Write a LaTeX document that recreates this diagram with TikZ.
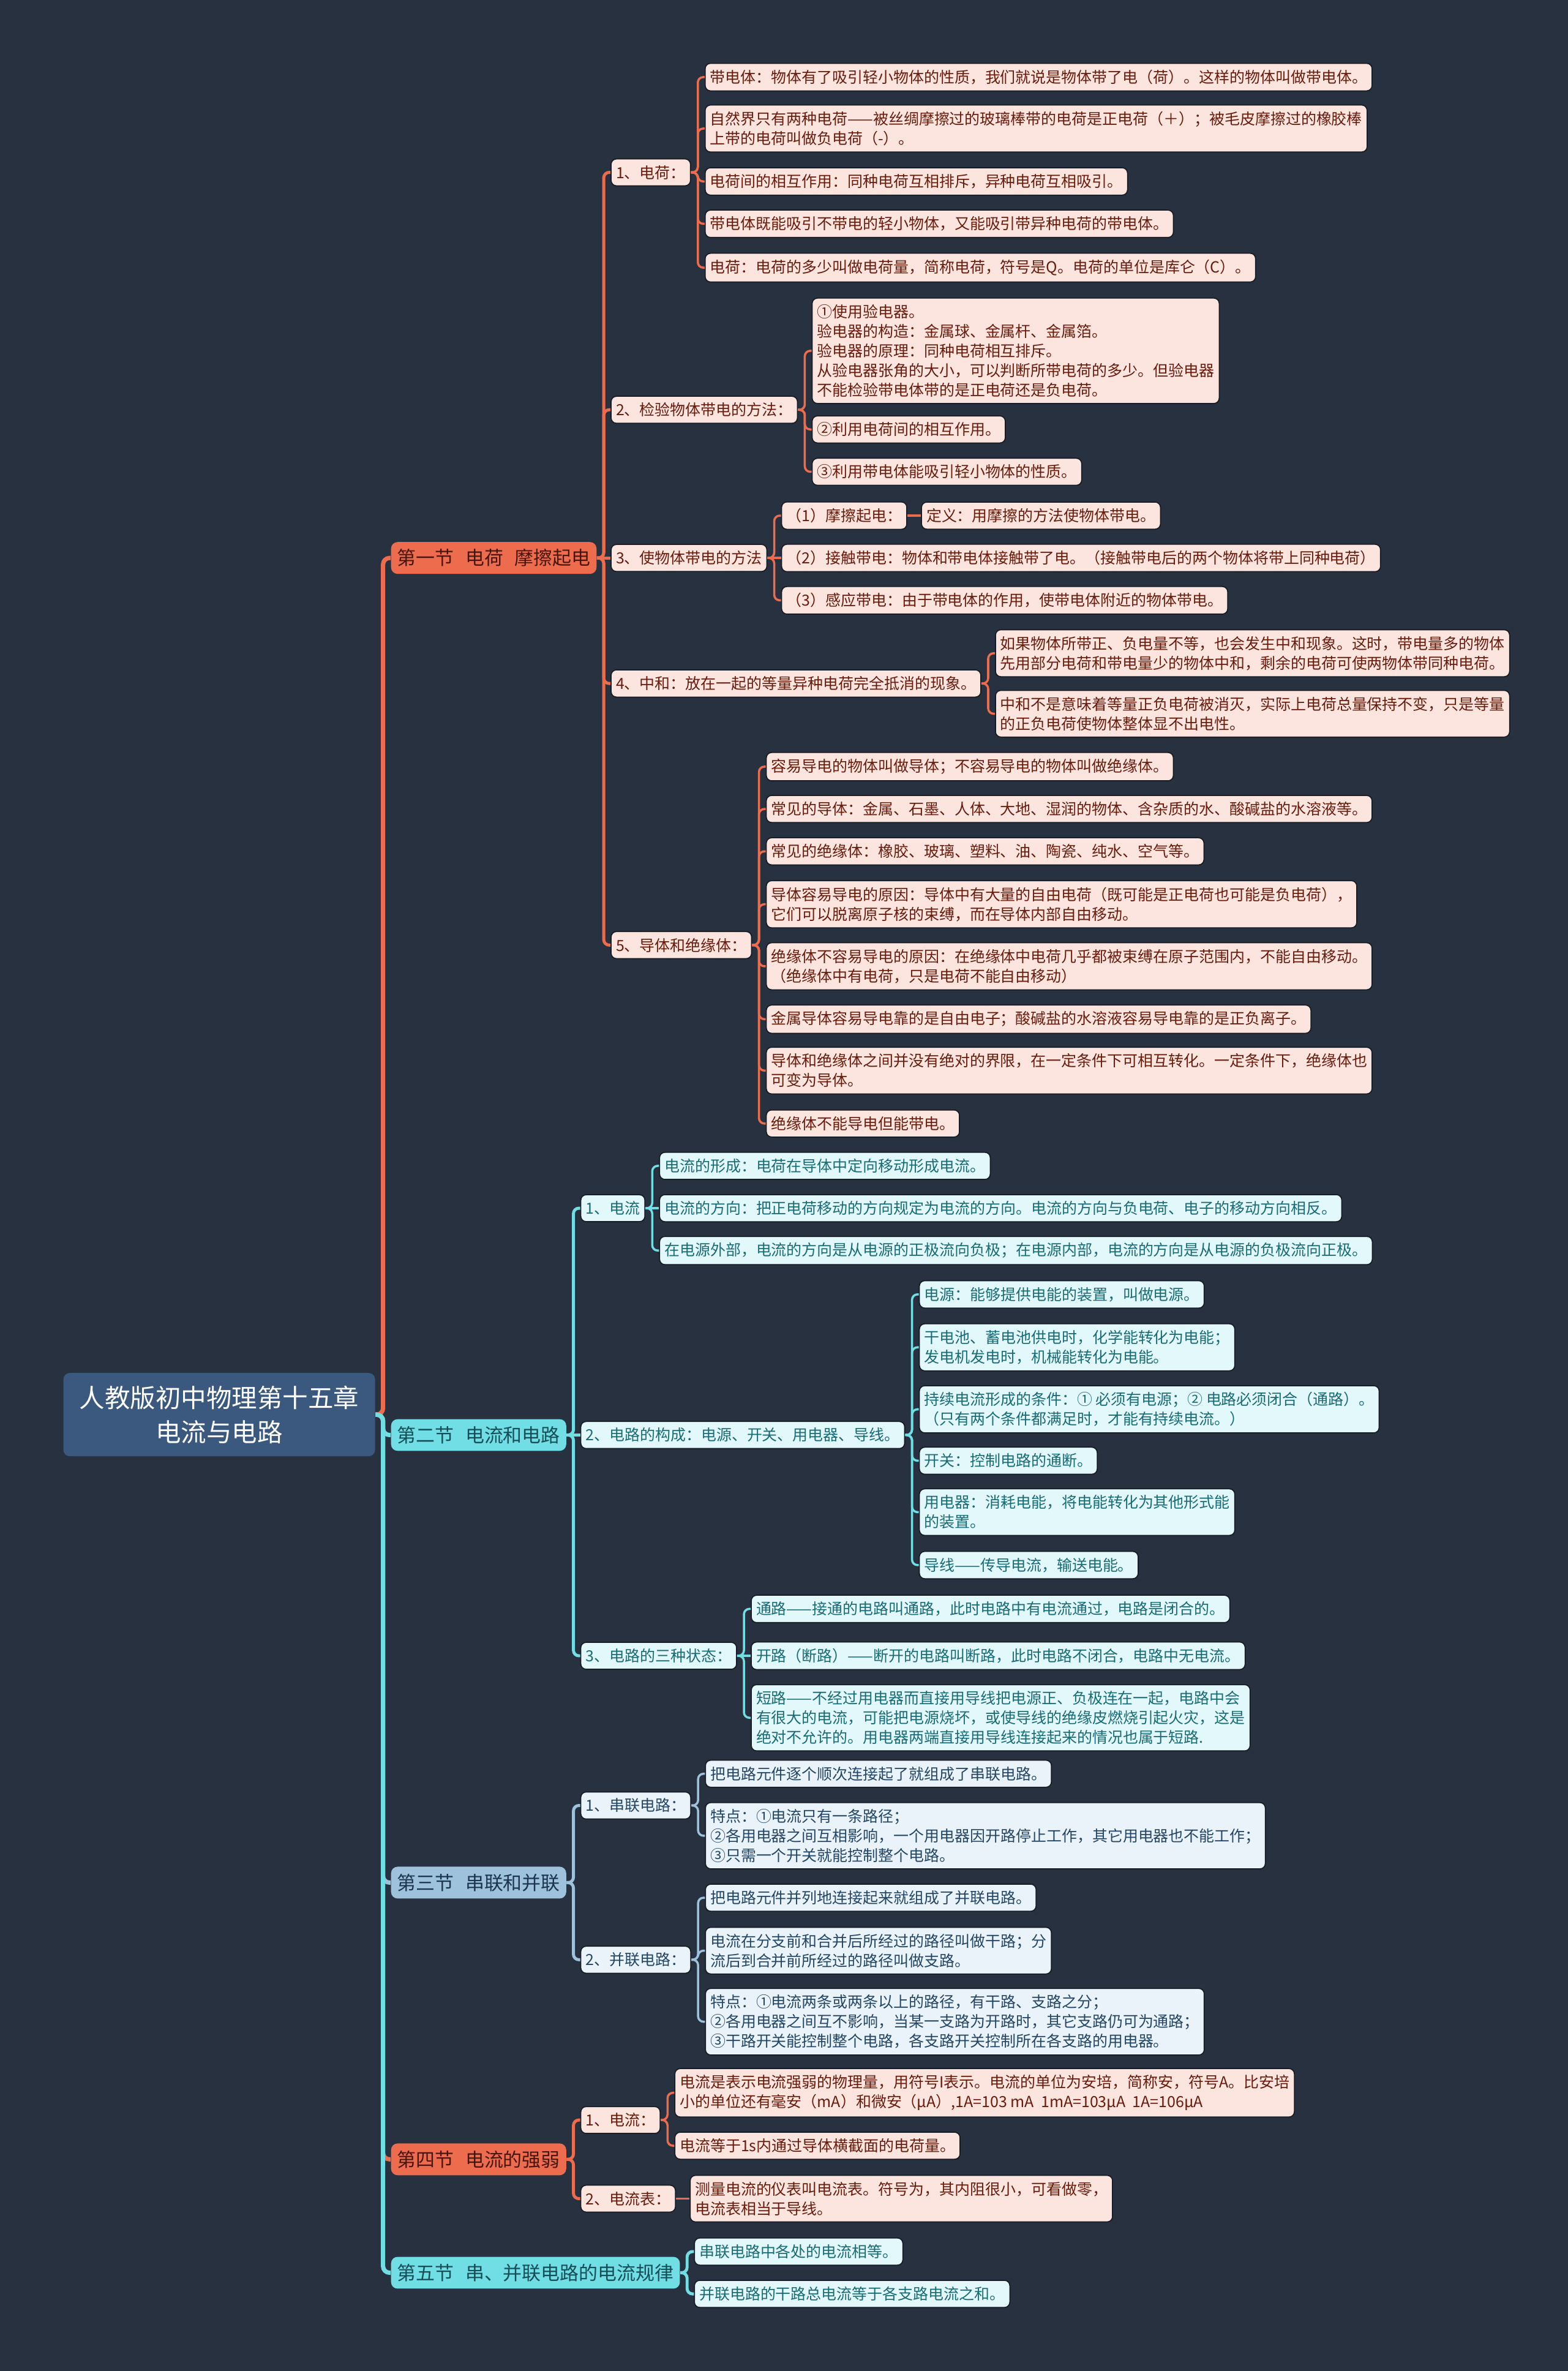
\documentclass[tikz,border=0pt]{standalone}
\usepackage{fontspec}
\setmainfont{Noto Sans CJK SC}
\definecolor{Bg}{RGB}{40,49,64}
\definecolor{Root}{RGB}{59,88,127}
\definecolor{Edge}{RGB}{24,28,36}
\definecolor{Coral}{RGB}{238,108,78}
\definecolor{RedLeaf}{RGB}{253,229,223}
\definecolor{RedText}{RGB}{105,28,12}
\definecolor{RedDark}{RGB}{70,22,12}
\definecolor{Cyan}{RGB}{112,222,228}
\definecolor{CyanLeaf}{RGB}{227,248,250}
\definecolor{CyanText}{RGB}{24,108,118}
\definecolor{TealDark}{RGB}{22,78,88}
\definecolor{Steel}{RGB}{158,194,220}
\definecolor{BlueLeaf}{RGB}{234,243,249}
\definecolor{BlueText}{RGB}{36,70,102}
\definecolor{NavyDark}{RGB}{28,52,78}

\begin{document}
\begin{tikzpicture}[x=0.024687cm,y=-0.024687cm,
 root/.style={rounded corners=3pt,fill=Root,text=white,minimum width=5.09cm,minimum height=1.36cm,align=center,font=\fontsize{11.8}{16}\selectfont},
 sec/.style={rounded corners=3pt,anchor=west,xshift=0.247cm,inner xsep=0.1cm,inner ysep=0.115cm,font=\fontsize{8.8}{10}\selectfont},
 leaf/.style={rounded corners=2.5pt,anchor=west,xshift=0.222cm,draw=Edge,line width=0.5pt,inner xsep=0.08cm,inner ysep=0.105cm,align=left,font=\fontsize{7.1}{9.1}\selectfont},
 rl/.style={leaf,fill=RedLeaf,text=RedText},
 cl/.style={leaf,fill=CyanLeaf,text=CyanText},
 bl/.style={leaf,fill=BlueLeaf,text=BlueText},
 spine/.style={line width=2pt,rounded corners=3pt},
 rk/.style={draw=Coral,line width=1pt,rounded corners=2.5pt},
 ck/.style={draw=Cyan,line width=1pt,rounded corners=2.5pt},
 bk/.style={draw=Steel,line width=1pt,rounded corners=2.5pt}]
\fill[Bg] (0,0) rectangle (1037,1568);

\node[root] (root) at (145,935.5) {人教版初中物理第十五章\\电流与电路};
\node[sec,fill=Coral,text=RedDark] (s1) at (root.east |- 0,369) {第一节\hspace{.6em}电荷\hspace{.6em}摩擦起电};
\node[sec,fill=Cyan,text=TealDark] (s2) at (root.east |- 0,949) {第二节\hspace{.6em}电流和电路};
\node[sec,fill=Steel,text=NavyDark] (s3) at (root.east |- 0,1245) {第三节\hspace{.6em}串联和并联};
\node[sec,fill=Coral,text=RedDark] (s4) at (root.east |- 0,1428) {第四节\hspace{.6em}电流的强弱};
\node[sec,fill=Cyan,text=TealDark] (s5) at (root.east |- 0,1503) {第五节\hspace{.6em}串、并联电路的电流规律};

% 第一节
\node[rl] (p11) at (s1.east |- 0,114) {1、电荷：};
\node[rl] (p12) at (s1.east |- 0,271) {2、检验物体带电的方法：};
\node[rl] (p13) at (s1.east |- 0,369) {3、使物体带电的方法};
\node[rl] (p14) at (s1.east |- 0,452) {4、中和：放在一起的等量异种电荷完全抵消的现象。};
\node[rl] (p15) at (s1.east |- 0,625) {5、导体和绝缘体：};

\node[rl] (q111) at (p11.east |- 0,51) {带电体：物体有了吸引轻小物体的性质，我们就说是物体带了电（荷）。这样的物体叫做带电体。};
\node[rl] (q112) at (p11.east |- 0,85) {自然界只有两种电荷——被丝绸摩擦过的玻璃棒带的电荷是正电荷（＋）；被毛皮摩擦过的橡胶棒\\上带的电荷叫做负电荷（-）。};
\node[rl] (q113) at (p11.east |- 0,120) {电荷间的相互作用：同种电荷互相排斥，异种电荷互相吸引。};
\node[rl] (q114) at (p11.east |- 0,148) {带电体既能吸引不带电的轻小物体，又能吸引带异种电荷的带电体。};
\node[rl] (q115) at (p11.east |- 0,177) {电荷：电荷的多少叫做电荷量，简称电荷，符号是Q。电荷的单位是库仑（C）。};

\node[rl] (q121) at (p12.east |- 0,232) {①使用验电器。\\验电器的构造：金属球、金属杆、金属箔。\\验电器的原理：同种电荷相互排斥。\\从验电器张角的大小，可以判断所带电荷的多少。但验电器\\不能检验带电体带的是正电荷还是负电荷。};
\node[rl] (q122) at (p12.east |- 0,284) {②利用电荷间的相互作用。};
\node[rl] (q123) at (p12.east |- 0,312) {③利用带电体能吸引轻小物体的性质。};

\node[rl] (q131) at (p13.east |- 0,341) {（1）摩擦起电：};
\node[rl] (q1311) at (q131.east |- 0,341) {定义：用摩擦的方法使物体带电。};
\node[rl] (q132) at (p13.east |- 0,369) {（2）接触带电：物体和带电体接触带了电。（接触带电后的两个物体将带上同种电荷）};
\node[rl] (q133) at (p13.east |- 0,397) {（3）感应带电：由于带电体的作用，使带电体附近的物体带电。};

\node[rl] (q141) at (p14.east |- 0,432) {如果物体所带正、负电量不等，也会发生中和现象。这时，带电量多的物体\\先用部分电荷和带电量少的物体中和，剩余的电荷可使两物体带同种电荷。};
\node[rl] (q142) at (p14.east |- 0,472) {中和不是意味着等量正负电荷被消灭，实际上电荷总量保持不变，只是等量\\的正负电荷使物体整体显不出电性。};

\node[rl] (q151) at (p15.east |- 0,507) {容易导电的物体叫做导体；不容易导电的物体叫做绝缘体。};
\node[rl] (q152) at (p15.east |- 0,535) {常见的导体：金属、石墨、人体、大地、湿润的物体、含杂质的水、酸碱盐的水溶液等。};
\node[rl] (q153) at (p15.east |- 0,563) {常见的绝缘体：橡胶、玻璃、塑料、油、陶瓷、纯水、空气等。};
\node[rl] (q154) at (p15.east |- 0,598) {导体容易导电的原因：导体中有大量的自由电荷（既可能是正电荷也可能是负电荷），\\它们可以脱离原子核的束缚，而在导体内部自由移动。};
\node[rl] (q155) at (p15.east |- 0,639) {绝缘体不容易导电的原因：在绝缘体中电荷几乎都被束缚在原子范围内，不能自由移动。\\（绝缘体中有电荷，只是电荷不能自由移动）};
\node[rl] (q156) at (p15.east |- 0,674) {金属导体容易导电靠的是自由电子；酸碱盐的水溶液容易导电靠的是正负离子。};
\node[rl] (q157) at (p15.east |- 0,708) {导体和绝缘体之间并没有绝对的界限，在一定条件下可相互转化。一定条件下，绝缘体也\\可变为导体。};
\node[rl] (q158) at (p15.east |- 0,743) {绝缘体不能导电但能带电。};

% 第二节
\node[cl] (p21) at (s2.east |- 0,799) {1、电流};
\node[cl] (p22) at (s2.east |- 0,949) {2、电路的构成：电源、开关、用电器、导线。};
\node[cl] (p23) at (s2.east |- 0,1095) {3、电路的三种状态：};

\node[cl] (q211) at (p21.east |- 0,771) {电流的形成：电荷在导体中定向移动形成电流。};
\node[cl] (q212) at (p21.east |- 0,799) {电流的方向：把正电荷移动的方向规定为电流的方向。电流的方向与负电荷、电子的移动方向相反。};
\node[cl] (q213) at (p21.east |- 0,827) {在电源外部，电流的方向是从电源的正极流向负极；在电源内部，电流的方向是从电源的负极流向正极。};

\node[cl] (q221) at (p22.east |- 0,856) {电源：能够提供电能的装置，叫做电源。};
\node[cl] (q222) at (p22.east |- 0,891) {干电池、蓄电池供电时，化学能转化为电能；\\发电机发电时，机械能转化为电能。};
\node[cl] (q223) at (p22.east |- 0,932) {持续电流形成的条件：① 必须有电源；② 电路必须闭合（通路）。\\（只有两个条件都满足时，才能有持续电流。）};
\node[cl] (q224) at (p22.east |- 0,966) {开关：控制电路的通断。};
\node[cl] (q225) at (p22.east |- 0,1000) {用电器：消耗电能，将电能转化为其他形式能\\的装置。};
\node[cl] (q226) at (p22.east |- 0,1035) {导线——传导电流，输送电能。};

\node[cl] (q231) at (p23.east |- 0,1064) {通路——接通的电路叫通路，此时电路中有电流通过，电路是闭合的。};
\node[cl] (q232) at (p23.east |- 0,1095) {开路（断路）——断开的电路叫断路，此时电路不闭合，电路中无电流。};
\node[cl] (q233) at (p23.east |- 0,1136) {短路——不经过用电器而直接用导线把电源正、负极连在一起，电路中会\\有很大的电流，可能把电源烧坏，或使导线的绝缘皮燃烧引起火灾，这是\\绝对不允许的。用电器两端直接用导线连接起来的情况也属于短路.};

% 第三节
\node[bl] (p31) at (s3.east |- 0,1194) {1、串联电路：};
\node[bl] (p32) at (s3.east |- 0,1296) {2、并联电路：};
\node[bl] (q311) at (p31.east |- 0,1173) {把电路元件逐个顺次连接起了就组成了串联电路。};
\node[bl] (q312) at (p31.east |- 0,1214) {特点：①电流只有一条路径；\\②各用电器之间互相影响，一个用电器因开路停止工作，其它用电器也不能工作；\\③只需一个开关就能控制整个电路。};
\node[bl] (q321) at (p32.east |- 0,1255) {把电路元件并列地连接起来就组成了并联电路。};
\node[bl] (q322) at (p32.east |- 0,1290) {电流在分支前和合并后所经过的路径叫做干路；分\\流后到合并前所经过的路径叫做支路。};
\node[bl] (q323) at (p32.east |- 0,1337) {特点：①电流两条或两条以上的路径，有干路、支路之分；\\②各用电器之间互不影响，当某一支路为开路时，其它支路仍可为通路；\\③干路开关能控制整个电路，各支路开关控制所在各支路的用电器。};

% 第四节
\node[rl] (p41) at (s4.east |- 0,1402) {1、电流：};
\node[rl] (p42) at (s4.east |- 0,1454) {2、电流表：};
\node[rl] (q411) at (p41.east |- 0,1384) {电流是表示电流强弱的物理量，用符号I表示。电流的单位为安培，简称安，符号A。比安培\\小的单位还有毫安（mA）和微安（μA）,1A=103 mA\ \ 1mA=103μA\ \ 1A=106μA};
\node[rl] (q412) at (p41.east |- 0,1419) {电流等于1s内通过导体横截面的电荷量。};
\node[rl] (q421) at (p42.east |- 0,1454) {测量电流的仪表叫电流表。符号为，其内阻很小，可看做零，\\电流表相当于导线。};

% 第五节
\node[cl] (q51) at (s5.east |- 0,1489) {串联电路中各处的电流相等。};
\node[cl] (q52) at (s5.east |- 0,1517) {并联电路的干路总电流等于各支路电流之和。};

% connectors
\foreach \s/\c in {s1/Coral,s2/Cyan,s3/Steel,s4/Coral,s5/Cyan}
 \draw[spine,\c] (root.east) -- ++(5,0) |- (\s.west);
\foreach \c in {p11,p12,p14,p15} \draw[rk,line width=1.4pt] (s1.east) -- ++(4.5,0) |- (\c.west);
\draw[rk,line width=1.4pt] (s1) -- (p13);
\foreach \c in {q111,q112,q113,q114,q115} \draw[rk] (p11.east) -- ++(4.5,0) |- (\c.west);
\foreach \c in {q121,q122,q123} \draw[rk] (p12.east) -- ++(4.5,0) |- (\c.west);
\foreach \c in {q131,q133} \draw[rk] (p13.east) -- ++(4.5,0) |- (\c.west);
\draw[rk] (p13) -- (q132); \draw[rk] (q131) -- (q1311);
\foreach \c in {q141,q142} \draw[rk] (p14.east) -- ++(4.5,0) |- (\c.west);
\foreach \c in {q151,q152,q153,q154,q155,q156,q157,q158} \draw[rk] (p15.east) -- ++(4.5,0) |- (\c.west);

\foreach \c in {p21,p23} \draw[ck,line width=1.4pt] (s2.east) -- ++(4.5,0) |- (\c.west);
\draw[ck,line width=1.4pt] (s2) -- (p22);
\foreach \c in {q211,q213} \draw[ck] (p21.east) -- ++(4.5,0) |- (\c.west);
\draw[ck] (p21) -- (q212);
\foreach \c in {q221,q222,q223,q224,q225,q226} \draw[ck] (p22.east) -- ++(4.5,0) |- (\c.west);
\foreach \c in {q231,q233} \draw[ck] (p23.east) -- ++(4.5,0) |- (\c.west);
\draw[ck] (p23) -- (q232);

\foreach \c in {p31,p32} \draw[bk,line width=1.4pt] (s3.east) -- ++(4.5,0) |- (\c.west);
\foreach \c in {q311,q312} \draw[bk] (p31.east) -- ++(4.5,0) |- (\c.west);
\foreach \c in {q321,q322,q323} \draw[bk] (p32.east) -- ++(4.5,0) |- (\c.west);

\foreach \c in {p41,p42} \draw[rk,line width=1.4pt] (s4.east) -- ++(4.5,0) |- (\c.west);
\foreach \c in {q411,q412} \draw[rk] (p41.east) -- ++(4.5,0) |- (\c.west);
\draw[rk] (p42) -- (q421);

\foreach \c in {q51,q52} \draw[ck,line width=1.4pt] (s5.east) -- ++(4.5,0) |- (\c.west);
\end{tikzpicture}
\end{document}
